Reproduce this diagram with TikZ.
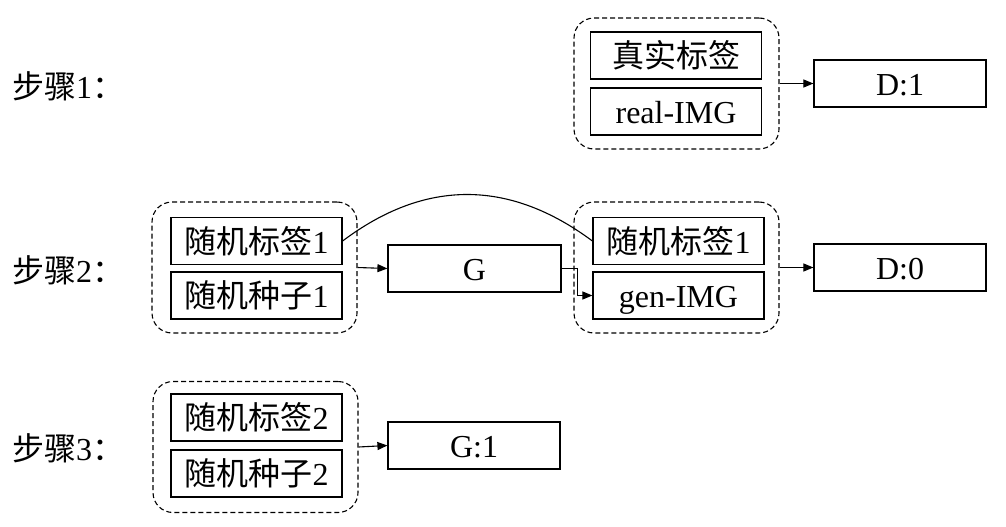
\documentclass[tikz,border=0pt]{standalone}
\usepackage{fontspec}
\setmainfont{Liberation Serif}
\newfontfamily\cjk{Noto Sans CJK SC}
\usetikzlibrary{arrows.meta}
\begin{document}
\begin{tikzpicture}[x=1pt,y=-1pt,
  every node/.style={font=\fontsize{32}{36}\selectfont, inner sep=0pt},
  box/.style={draw, line width=1.2pt, minimum width=171pt, minimum height=47pt, text height=24pt, text depth=0pt},
  grp/.style={draw, line width=1.1pt, dash pattern=on 5pt off 3pt, rounded corners=20pt, minimum width=205pt, minimum height=131pt},
  arr/.style={line width=1.1pt, -{Triangle[length=10pt,width=8pt]}},
  steplbl/.style={anchor=west}
]
\useasboundingbox (0,0) rectangle (1006,527);
% step labels
\node[steplbl] (s1) at (12,86) {{\cjk 步骤}1{\cjk ：}};
\node[steplbl] (s2) at (12,270) {{\cjk 步骤}2{\cjk ：}};
\node[steplbl] (s3) at (12,448.5) {{\cjk 步骤}3{\cjk ：}};
% step 1
\node[grp] (g1) at (676.5,83.5) {};
\node[box] (t1) at (676,55.5) {{\cjk 真实标签}};
\node[box] (ri) at (676,111.5) {real-IMG};
\node[box,minimum width=172pt] (d1) at (900,83.5) {D:1};
\draw[arr] (g1.east) -- (d1.west);
% step 2
\node[grp] (g2l) at (254.5,267.5) {};
\node[box] (l1) at (256.5,241) {{\cjk 随机标签}1};
\node[box] (l2) at (256.5,295.5) {{\cjk 随机种子}1};
\node[box,minimum width=173pt] (G) at (474.5,268.5) {G};
\node[grp] (g2r) at (676.5,267.5) {};
\node[box] (r1) at (678.5,241) {{\cjk 随机标签}1};
\node[box] (gi) at (678.5,295.5) {gen-IMG};
\node[box,minimum width=172pt] (d0) at (900,267.5) {D:0};
\draw[arr] (g2l.east) -- (G.west);
\draw[arr] (g2r.east) -- (d0.west);
\draw[arr] (G.east) -- ++(16,0) |- (gi.west);
\draw[line width=1.1pt] (l1.east) .. controls (425,179) and (509,179) .. (r1.west);
% step 3
\node[grp] (g3) at (255.5,447) {};
\node[box] (m1) at (256.5,417.5) {{\cjk 随机标签}2};
\node[box] (m2) at (256.5,473.5) {{\cjk 随机种子}2};
\node[box,minimum width=172pt] (G1) at (474,445.5) {G:1};
\draw[arr] (g3.east) -- (G1.west);
\end{tikzpicture}
\end{document}
